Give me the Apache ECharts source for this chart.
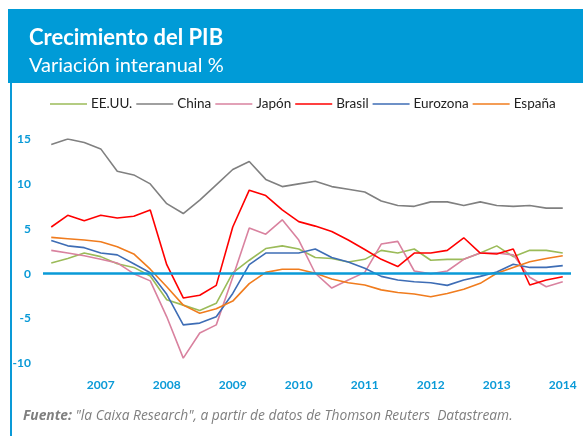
<!DOCTYPE html>
<html>
<head>
<meta charset="utf-8">
<script src="https://cdn.jsdelivr.net/npm/echarts@6/dist/echarts.min.js"></script>
<style>
html,body{margin:0;padding:0;background:#fff;}
#c{width:583px;height:436px;}
</style>
</head>
<body>
<div id="c"></div>
<script>
// Quarterly categories: 2006 T2 ... 2014 T1
const categories = [
  'T2-06','T3-06','T4-06',
  'T1-07','T2-07','T3-07','T4-07',
  'T1-08','T2-08','T3-08','T4-08',
  'T1-09','T2-09','T3-09','T4-09',
  'T1-10','T2-10','T3-10','T4-10',
  'T1-11','T2-11','T3-11','T4-11',
  'T1-12','T2-12','T3-12','T4-12',
  'T1-13','T2-13','T3-13','T4-13',
  'T1-14'
];
const yearLabels = ['2007','2008','2009','2010','2011','2012','2013','2014'];
const yTicks = [-10,-5,0,5,10,15];

const eeuu = [1.2,1.7,2.3,1.9,1.1,0.7,-0.25,-2.9,-3.5,-4.1,-3.3,0.1,1.5,2.8,3.1,2.75,1.8,1.7,1.3,1.6,2.6,2.3,2.75,1.5,1.6,1.6,2.3,3.1,1.9,2.6,2.6,2.3];
const china = [14.4,15.0,14.6,13.9,11.4,11.0,10.0,7.8,6.7,8.2,9.9,11.6,12.5,10.5,9.7,10.0,10.3,9.7,9.4,9.1,8.1,7.6,7.5,8.0,8.0,7.6,8.0,7.6,7.5,7.6,7.3,7.3];
const japon = [2.6,2.3,2.0,1.6,1.2,0.0,-0.8,-4.8,-9.4,-6.6,-5.7,-0.4,5.1,4.4,6.0,3.75,0.05,-1.6,-0.7,0.15,3.3,3.6,0.3,0.0,0.3,1.6,2.3,2.3,2.1,-0.4,-1.45,-0.9];
const brasil = [5.2,6.5,5.9,6.5,6.2,6.4,7.1,1.0,-2.7,-2.4,-1.3,5.2,9.3,8.7,7.1,5.8,5.3,4.7,3.75,2.7,1.6,0.8,2.3,2.3,2.6,4.0,2.3,2.2,2.75,-1.26,-0.7,-0.33];
const eurozona = [3.7,3.1,2.9,2.3,2.1,1.1,0.1,-2.3,-5.7,-5.5,-4.8,-2.2,1.0,2.3,2.3,2.3,2.75,1.8,1.3,0.6,-0.3,-0.7,-0.9,-1.0,-1.3,-0.7,-0.3,0.2,1.05,0.7,0.7,0.9];
const espana = [4.05,3.9,3.75,3.55,3.0,2.2,0.5,-1.45,-3.5,-4.4,-3.9,-3.05,-1.1,0.15,0.5,0.5,0.05,-0.6,-1.0,-1.26,-1.8,-2.1,-2.26,-2.56,-2.2,-1.74,-1.07,0.05,0.7,1.34,1.7,2.0];

const seriesNames = ['EE.UU.','China','Japón','Brasil','Eurozona','España'];
const seriesData = [eeuu, china, japon, brasil, eurozona, espana];
const seriesColors = ['#9bbb59','#808080','#d9829f','#ff0000','#3e6db5','#f07c1e'];

const BLUE = '#0a9ad7';
const FONT = 'Lato, "Open Sans", sans-serif';

const chart = echarts.init(document.getElementById('c'), null, {renderer:'canvas'});

const series = seriesNames.map((n, i) => ({
  name: n,
  type: 'line',
  data: seriesData[i],
  symbol: 'none',
  showSymbol: false,
  smooth: false,
  z: 3,
  lineStyle: {color: seriesColors[i], width: 1.6},
  itemStyle: {color: seriesColors[i]},
  emphasis: {disabled: true}
}));
// zero line (horizontal axis line of the reference)
series.push({
  name: 'zero',
  type: 'line',
  data: [],
  markLine: {
    silent: true,
    symbol: 'none',
    label: {show: false},
    lineStyle: {color: BLUE, width: 2.5, type: 'solid'},
    data: [{yAxis: 0}]
  },
  z: 2
});

const option = {
  animation: false,
  backgroundColor: '#ffffff',
  textStyle: {fontFamily: FONT},
  graphic: [
    {type: 'rect', shape: {x: 8, y: 9, width: 575, height: 74}, style: {fill: '#009bd7'}, z: 0},
    {type: 'rect', shape: {x: 10, y: 83, width: 2, height: 353}, style: {fill: BLUE}, z: 0},
    {type: 'text', x: 29, y: 38, style: {text: 'Crecimiento del PIB', fill: '#ffffff', font: 'bold 22px ' + FONT, verticalAlign: 'middle', align: 'left'}, z: 10},
    {type: 'text', x: 29, y: 66, style: {text: 'Variación interanual %', fill: '#ffffff', font: '20px ' + FONT, verticalAlign: 'middle', align: 'left'}, z: 10},
    {type: 'text', x: 23, y: 416, style: {
      text: '{b|Fuente:} "la Caixa Research", a partir de datos de Thomson Reuters  Datastream.',
      rich: {b: {fontWeight: 'bold', fontStyle: 'italic', fontSize: 13.8, fontFamily: '"Open Sans", sans-serif', fill: '#7f7f7f'}},
      fill: '#7f7f7f', font: 'italic 13.8px "Open Sans", sans-serif', verticalAlign: 'middle', align: 'left'}, z: 10}
  ],
  legend: {
    left: 45,
    top: 92,
    icon: 'rect',
    itemWidth: 37,
    itemHeight: 1.6,
    itemGap: 4,
    data: seriesNames,
    textStyle: {fontSize: 13.5, color: '#222', fontFamily: FONT, padding: [0, 0, 0, -1]}
  },
  grid: {left: 43, right: 12, top: 139, bottom: 72.5, containLabel: false},
  xAxis: {
    type: 'category',
    data: categories,
    boundaryGap: true,
    axisLine: {show: false, onZero: false},
    axisTick: {show: false},
    splitLine: {show: false},
    axisLabel: {
      interval: (idx) => idx % 4 === 3,
      formatter: (v, idx) => yearLabels[(idx - 3) / 4] || '',
      color: BLUE, fontWeight: 'bold', fontSize: 12, margin: 16, fontFamily: FONT
    }
  },
  yAxis: {
    type: 'value',
    min: yTicks[0],
    max: yTicks[yTicks.length - 1],
    interval: 5,
    axisLine: {show: false},
    axisTick: {show: false},
    splitLine: {show: false},
    axisLabel: {color: BLUE, fontWeight: 'bold', fontSize: 12, margin: 12, fontFamily: FONT}
  },
  series: series
};
chart.setOption(option);
</script>
</body>
</html>
